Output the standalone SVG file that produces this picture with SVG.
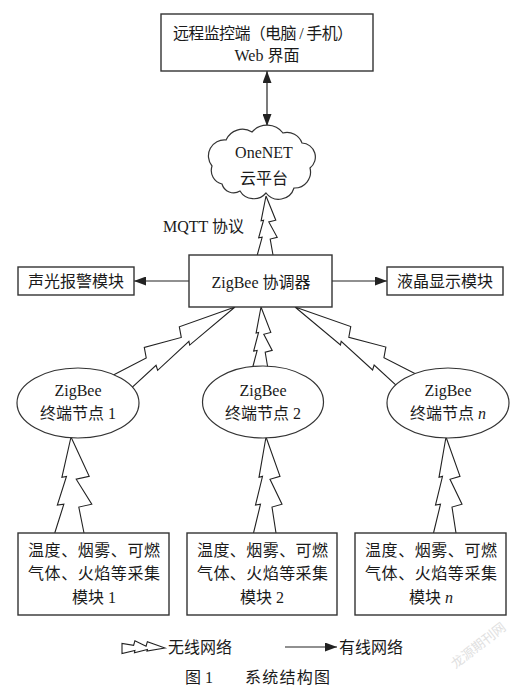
<svg xmlns="http://www.w3.org/2000/svg" width="525" height="688" viewBox="0 0 525 688">
<style>
  .box { fill: #fff; stroke: #333; stroke-width: 1.4; }
  .ell { fill: #fff; stroke: #333; stroke-width: 1.2; }
  .line { fill: none; stroke: #222; stroke-width: 1.2; }
  .bolt { fill: none; stroke: #222; stroke-width: 1.1; stroke-linejoin: miter; }
  text { font-family: "Liberation Serif", "Noto Sans CJK SC", serif; font-size: 16px; fill: #1a1a1a; }
  .c { text-anchor: middle; }
  .wm { font-family: "Noto Sans CJK SC", sans-serif; font-size: 13px; fill: #ccc; opacity: 0.6; }
</style>
<defs>
  <marker id="arr" viewBox="0 0 12 9" markerWidth="12" markerHeight="9" refX="12" refY="4.5" orient="auto-start-reverse" markerUnits="userSpaceOnUse">
    <path d="M0,0 L12,4.5 L0,9 Z" fill="#222"/>
  </marker>
  <path id="boltShape" vector-effect="non-scaling-stroke" d="M0,0 L0.42,-0.7 L0.41,-0.35 L0.71,-1.05 L0.70,-0.55 L1,-1.25 M0,0 L0.41,1.4 L0.44,0.4 L0.70,1.6 L0.73,0.6 L1,1.0"/>
  <path id="boltClosed" vector-effect="non-scaling-stroke" d="M0,0 L0.42,-0.7 L0.41,-0.35 L0.71,-1.05 L0.70,-0.55 L1,-1.25 L1,1.0 L0.73,0.6 L0.70,1.6 L0.44,0.4 L0.41,1.4 Z"/>
</defs>
<rect width="525" height="688" fill="#fff"/>

<g id="connectors">
  <line class="line" x1="267" y1="71" x2="267" y2="126" marker-start="url(#arr)" marker-end="url(#arr)"/>
  <line class="line" x1="189" y1="281" x2="134" y2="281" marker-end="url(#arr)"/>
  <line class="line" x1="332" y1="281" x2="387" y2="281" marker-end="url(#arr)"/>
  <use href="#boltShape" class="bolt" transform="translate(266,196) rotate(90) scale(59,-7)"/>
  <use href="#boltShape" class="bolt" transform="translate(261,307) rotate(90) scale(62,-7)"/>
  <use href="#boltShape" class="bolt" transform="translate(235,307) rotate(146.75) scale(140,10)"/>
  <use href="#boltShape" class="bolt" transform="translate(295,307) rotate(33.05) scale(140,-10)"/>
  <use href="#boltShape" class="bolt" transform="translate(71,437) rotate(90) scale(96,-13)"/>
  <use href="#boltShape" class="bolt" transform="translate(266,437) rotate(90) scale(96,-10)"/>
  <use href="#boltShape" class="bolt" transform="translate(446,437) rotate(90) scale(96,-10)"/>
</g>

<g id="remote">
  <rect class="box" x="161" y="14" width="212" height="57"/>
  <text x="173" y="39" textLength="180" lengthAdjust="spacing">远程监控端（电脑 / 手机）</text>
  <text class="c" x="267" y="61">Web 界面</text>
</g>

<g id="onenet">
  <path class="ell" d="M222,184 A14,14 0 0 1 212,166 A16,16 0 0 1 226,140 A18,18 0 0 1 252,132 A20,20 0 0 1 283,133 A16,16 0 0 1 302,143 A14,14 0 0 1 310,168 A16,16 0 0 1 294,188 A16,16 0 0 1 266,193 A16,16 0 0 1 240,191 A12,12 0 0 1 222,184 Z"/>
  <text class="c" x="264" y="158">OneNET</text>
  <text class="c" x="264" y="184">云平台</text>
</g>

<g id="mqtt-label">
  <text x="163" y="232">MQTT 协议</text>
</g>

<g id="coordinator">
  <rect class="box" x="189" y="255" width="143" height="52"/>
  <text class="c" x="261" y="288">ZigBee 协调器</text>
</g>

<g id="alarm">
  <rect class="box" x="18" y="267" width="116" height="28"/>
  <text class="c" x="76" y="287">声光报警模块</text>
</g>

<g id="lcd">
  <rect class="box" x="387" y="267" width="116" height="28"/>
  <text class="c" x="445" y="287">液晶显示模块</text>
</g>

<g id="node1">
  <ellipse class="ell" cx="78" cy="403" rx="61" ry="35"/>
  <text class="c" x="78" y="396">ZigBee</text>
  <text class="c" x="78" y="419">终端节点 1</text>
</g>
<g id="node2">
  <ellipse class="ell" cx="263" cy="402" rx="60.5" ry="36"/>
  <text class="c" x="263" y="396">ZigBee</text>
  <text class="c" x="263" y="419">终端节点 2</text>
</g>
<g id="noden">
  <ellipse class="ell" cx="448" cy="403" rx="61" ry="35"/>
  <text class="c" x="448" y="396">ZigBee</text>
  <text class="c" x="448" y="419">终端节点 <tspan font-style="italic">n</tspan></text>
</g>

<g id="sensor1">
  <rect class="box" x="18" y="533" width="151" height="82"/>
  <text x="28" y="556" textLength="132" lengthAdjust="spacing">温度、烟雾、可燃</text>
  <text x="28" y="579" textLength="132" lengthAdjust="spacing">气体、火焰等采集</text>
  <text class="c" x="94" y="603">模块 1</text>
</g>
<g id="sensor2">
  <rect class="box" x="187" y="533" width="150" height="82"/>
  <text x="197" y="556" textLength="131" lengthAdjust="spacing">温度、烟雾、可燃</text>
  <text x="197" y="579" textLength="131" lengthAdjust="spacing">气体、火焰等采集</text>
  <text class="c" x="262" y="603">模块 2</text>
</g>
<g id="sensorn">
  <rect class="box" x="355" y="533" width="151" height="82"/>
  <text x="365" y="556" textLength="132" lengthAdjust="spacing">温度、烟雾、可燃</text>
  <text x="365" y="579" textLength="132" lengthAdjust="spacing">气体、火焰等采集</text>
  <text class="c" x="431" y="603">模块 <tspan font-style="italic">n</tspan></text>
</g>

<g id="legend">
  <use href="#boltClosed" class="bolt" transform="translate(165,648) rotate(180) scale(43,4.5)"/>
  <text x="168" y="653">无线网络</text>
  <line class="line" x1="285" y1="647" x2="337" y2="647" marker-end="url(#arr)"/>
  <text x="339" y="653">有线网络</text>
</g>

<g id="caption">
  <text x="185" y="683" font-size="16">图 1</text>
  <text x="245" y="683" font-size="16" textLength="85" lengthAdjust="spacing">系统结构图</text>
</g>

<text class="wm" x="478" y="650" text-anchor="middle" transform="rotate(-38 478 645)">龙源期刊网</text>
</svg>
